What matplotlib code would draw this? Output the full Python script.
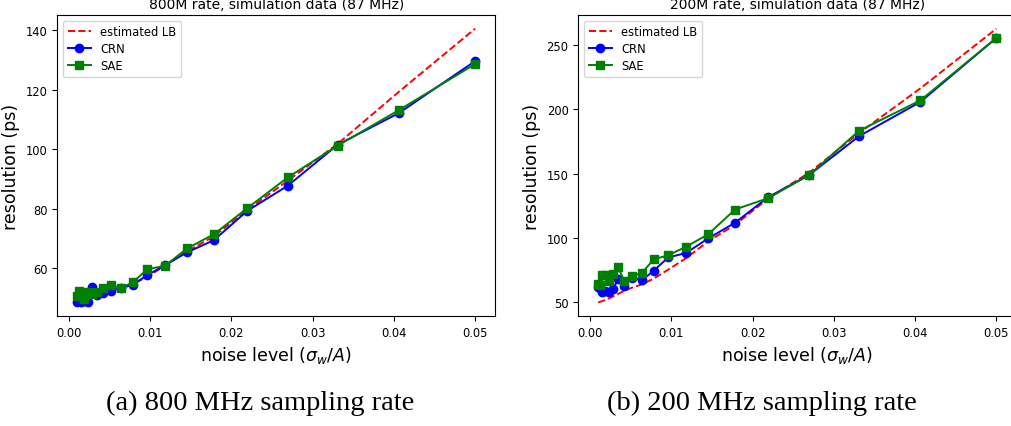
import matplotlib
matplotlib.use('Agg')
import matplotlib.pyplot as plt

# noise levels (sigma_w / A)
noise = [0.001, 0.00123, 0.00151, 0.00185, 0.00228, 0.0028, 0.00344, 0.00422,
         0.00519, 0.00637, 0.00783, 0.00962, 0.01182, 0.01452, 0.01784,
         0.02192, 0.02693, 0.03309, 0.04066, 0.05]

# 800M rate
lb_800 = [48.8, 48.9, 49.1, 49.3, 49.6, 50.0, 50.5, 51.2, 52.0, 53.0, 54.7,
          57.2, 60.9, 65.7, 70.8, 79.6, 89.5, 101.9, 119.5, 140.6]
crn_800 = [48.6, 49.5, 48.6, 49.1, 48.6, 53.8, 50.9, 51.7, 52.4, 53.5, 54.5,
           57.7, 61.1, 65.4, 69.5, 79.3, 87.8, 101.6, 112.3, 129.7]
sae_800 = [50.8, 52.5, 50.6, 49.8, 52.1, 51.3, 52.0, 53.3, 54.4, 53.4, 55.3,
           59.7, 60.9, 66.7, 71.5, 80.2, 90.6, 101.3, 113.3, 128.7]

# 200M rate
lb_200 = [49.5, 49.9, 50.5, 51.3, 52.5, 54.0, 56.0, 58.5, 61.0, 63.5, 68.0,
          75.0, 84.0, 97.0, 110.0, 130.5, 150.5, 181.5, 216.5, 263.0]
crn_200 = [61.7, 60.5, 57.8, 58.0, 57.8, 59.8, 67.4, 62.5, 68.7, 66.6, 74.2,
           84.5, 88.0, 99.3, 111.6, 131.6, 148.7, 179.1, 205.9, 255.8]
sae_200 = [63.5, 62.9, 70.5, 70.7, 66.1, 71.8, 77.0, 65.8, 70.3, 72.3, 83.1,
           86.2, 92.9, 102.5, 121.9, 130.8, 148.7, 183.3, 207.1, 255.8]

panels = [
    ('800M rate, simulation data (87 MHz)', lb_800, crn_800, sae_800,
     [57.3, 110, 437.7, 301], '(a) 800 MHz sampling rate', 260),
    ('200M rate, simulation data (87 MHz)', lb_200, crn_200, sae_200,
     [578.3, 110, 438, 301], '(b) 200 MHz sampling rate', 762),
]

W, H = 1011, 427
fig = plt.figure(figsize=(W / 100, H / 100), dpi=100)

for title, lb, crn, sae, box, cap, cx in panels:
    ax = fig.add_axes([box[0] / W, box[1] / H, box[2] / W, box[3] / H])
    ax.plot(noise, lb, 'r--', lw=1.4, label='estimated LB')
    ax.plot(noise, crn, 'b-o', lw=1.4, ms=6, label='CRN')
    ax.plot(noise, sae, 'g-s', lw=1.4, ms=6, label='SAE')
    ax.set_xticks([0.0, 0.01, 0.02, 0.03, 0.04, 0.05])
    ax.tick_params(labelsize=8.3)
    ax.set_xlabel(r'noise level ($\sigma_w/A$)', size=12.5)
    ax.set_ylabel('resolution (ps)', size=12.5)
    ax.set_title(title, size=10, pad=5)
    ax.legend(loc='upper left', fontsize=8.3, labelspacing=0.35)
    fig.text(cx / W, (H - 410) / H, cap, ha='center', va='baseline',
             family='Liberation Serif', size=20.5)

fig.savefig('out.png', dpi=100)
